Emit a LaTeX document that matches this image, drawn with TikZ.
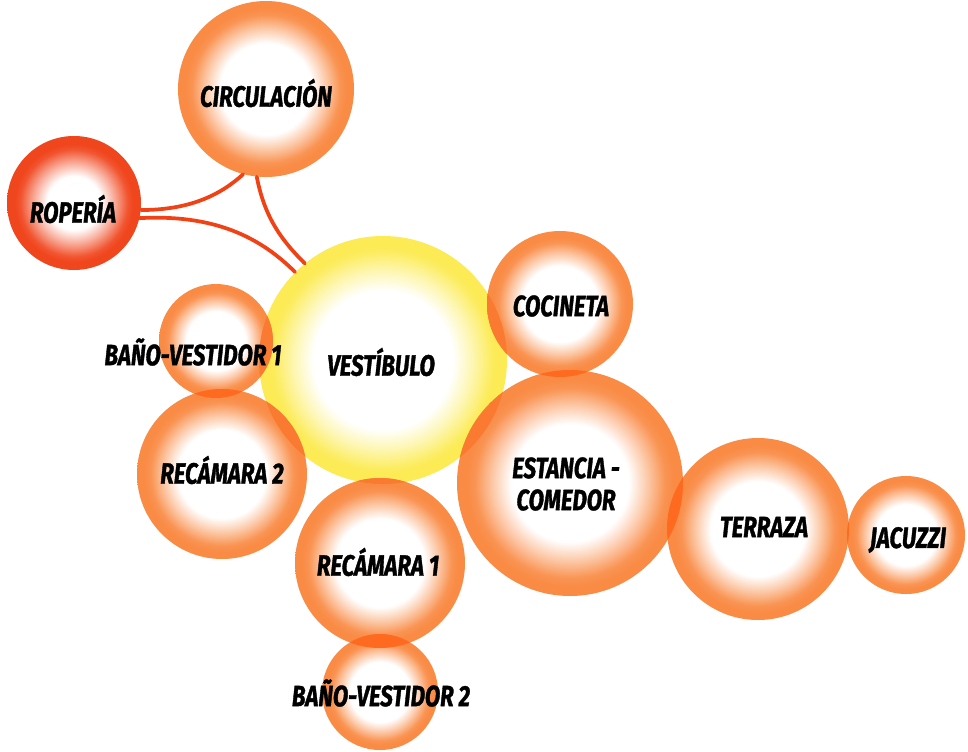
\documentclass[tikz,border=0pt]{standalone}
\usepackage{fontspec}
\setsansfont{Fira Sans}[FakeStretch=0.76, FakeBold=1.2]

\definecolor{ballorange}{HTML}{F98B45}
\definecolor{ballyellow}{HTML}{FCEB55}
\definecolor{ballred}{HTML}{F0461E}
\definecolor{lensorange}{HTML}{FD6A20}
\definecolor{lensyellow}{HTML}{F97A30}
\definecolor{linkred}{HTML}{F04214}

% radial fills: white core fading to a solid rim (25bp = rim of the circle)
\pgfdeclareradialshading{orangeball}{\pgfpoint{0cm}{0cm}}{%
  color(0bp)=(white); color(13bp)=(white); color(17bp)=(ballorange!45!white);
  color(21bp)=(ballorange!92!white); color(23bp)=(ballorange); color(50bp)=(ballorange)}
\pgfdeclareradialshading{yellowball}{\pgfpoint{0cm}{0cm}}{%
  color(0bp)=(white); color(14bp)=(white); color(18bp)=(ballyellow!45!white);
  color(22bp)=(ballyellow!95!white); color(23bp)=(ballyellow); color(50bp)=(ballyellow)}
\pgfdeclareradialshading{redball}{\pgfpoint{0cm}{0cm}}{%
  color(0bp)=(white); color(10bp)=(white); color(15bp)=(ballred!45!white);
  color(20bp)=(ballred!92!white); color(22bp)=(ballred); color(50bp)=(ballred)}

\tikzset{
  ball/.style={circle, inner sep=0pt, shade, shading=#1},
  room/.style={font=\sffamily\bfseries\itshape\fontsize{22}{23}\selectfont, text=black, align=center, inner sep=0pt},
  link/.style={draw=linkred, line width=2.8pt, line cap=round}
}

% overlap of two circles, filled with a darker tone
\newcommand\overlaplens[5]{%
  \begin{scope}
    \clip (#1) circle[radius=#2];
    \fill[#5] (#3) circle[radius=#4];
  \end{scope}}

\begin{document}
\begin{tikzpicture}[x=0.75pt, y=-0.75pt]
  \useasboundingbox (0,0) rectangle (968,751);
  \fill[white] (0,0) rectangle (968,751);

  % rooms
  \node[ball=orangeball, minimum size=132pt]   (circ) at (266,89)  {};
  \node[ball=redball,    minimum size=100.5pt] (rop)  at (74,203)  {};
  \node[ball=yellowball, minimum size=186pt]   (vest) at (383,360) {};
  \node[ball=orangeball, minimum size=109.5pt] (coc)  at (560,304) {};
  \node[ball=orangeball, minimum size=85.5pt]  (bv1)  at (216,341) {};
  \node[ball=orangeball, minimum size=127.5pt] (rec2) at (222,474) {};
  \node[ball=orangeball, minimum size=169.5pt] (est)  at (570,483) {};
  \node[ball=orangeball, minimum size=136.5pt] (ter)  at (758,529) {};
  \node[ball=orangeball, minimum size=88.5pt]  (jac)  at (906,535) {};
  \node[ball=orangeball, minimum size=127.5pt] (rec1) at (380,563) {};
  \node[ball=orangeball, minimum size=87pt]    (bv2)  at (380,692) {};

  % overlapping rims
  \overlaplens{vest}{124}{coc}{73}{lensyellow}
  \overlaplens{vest}{124}{est}{113}{lensyellow}
  \overlaplens{vest}{124}{bv1}{57}{lensyellow}
  \overlaplens{vest}{124}{rec2}{85}{lensyellow}
  \overlaplens{vest}{124}{rec1}{85}{lensyellow}
  \overlaplens{bv1}{57}{rec2}{85}{lensorange}
  \overlaplens{coc}{73}{est}{113}{lensorange}
  \overlaplens{est}{113}{ter}{91}{lensorange}
  \overlaplens{ter}{91}{jac}{59}{lensorange}
  \overlaplens{rec1}{85}{bv2}{58}{lensorange}

  % links
  \draw[link] (rop.-6) .. controls +(50,0) and +(-22,20) .. (circ.-105);
  \draw[link] (rop.-13) .. controls +(75,-4) and +(-35,-35) .. (vest.135);
  \draw[link] (circ.-96) .. controls +(8,42) and +(-22,-22) .. (vest.129);

  % labels
  \node[room] (circ-t) at (266,93)  {CIRCULACIÓN};
  \node[room] (rop-t)  at (73,209)  {ROPERÍA};
  \node[room] (vest-t) at (381,362) {VESTÍBULO};
  \node[room] (coc-t)  at (561,306) {COCINETA};
  \node[room] (bv1-t)  at (193,352) {BAÑO-VESTIDOR 1};
  \node[room] (rec2-t) at (222,470) {RECÁMARA 2};
  \node[room] (est-t)  at (566,484) {ESTANCIA -\\[1pt]COMEDOR};
  \node[room] (ter-t)  at (764,527) {TERRAZA};
  \node[room] (jac-t)  at (908,540) {JACUZZI};
  \node[room] (rec1-t) at (378,562) {RECÁMARA 1};
  \node[room] (bv2-t)  at (381,693) {BAÑO-VESTIDOR 2};
\end{tikzpicture}
\end{document}
